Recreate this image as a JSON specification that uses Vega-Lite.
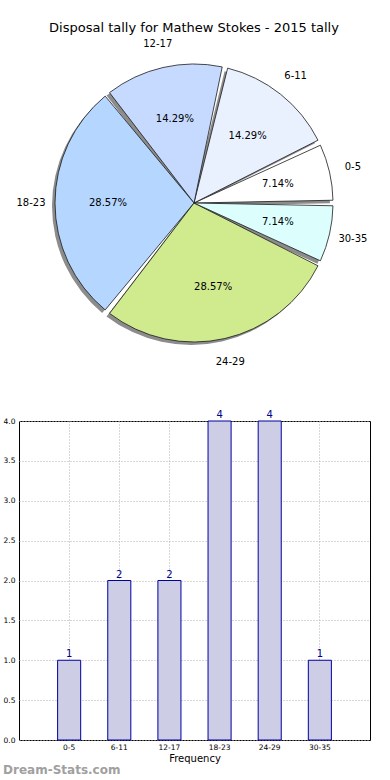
{
  "$schema": "https://vega.github.io/schema/vega-lite/v6.json",
  "padding": {"top": 22, "left": 2, "right": 0, "bottom": 0},
  "background": "white",
  "spacing": 42,
  "config": {"font": "DejaVu Sans", "view": {"stroke": null}},
  "datasets": {
    "tally": [
      {"idx": 0, "bin": "0-5", "count": 1, "pct": "7.14%"},
      {"idx": 1, "bin": "6-11", "count": 2, "pct": "14.29%"},
      {"idx": 2, "bin": "12-17", "count": 2, "pct": "14.29%"},
      {"idx": 3, "bin": "18-23", "count": 4, "pct": "28.57%"},
      {"idx": 4, "bin": "24-29", "count": 4, "pct": "28.57%"},
      {"idx": 5, "bin": "30-35", "count": 1, "pct": "7.14%"}
    ]
  },
  "vconcat": [
    {
      "width": 350,
      "height": 318,
      "title": {"text": "Disposal tally for Mathew Stokes - 2015 tally", "fontSize": 13, "fontWeight": "normal", "color": "black", "anchor": "middle", "offset": 4},
      "data": {"name": "tally"},
      "encoding": {
        "theta": {"field": "count", "type": "quantitative", "stack": true, "scale": {"range": [1.5708, 7.854]}},
        "order": {"field": "idx", "type": "quantitative", "sort": "descending"}
      },
      "layer": [
        {"mark": {"type": "arc", "outerRadius": 139, "padAngle": 0.04, "fill": "#8c8c8c", "xOffset": -3, "yOffset": 3}, "encoding": {}},
        {
          "mark": {"type": "arc", "outerRadius": 139, "padAngle": 0.04, "stroke": "#1a1a1a", "strokeWidth": 0.8},
          "encoding": {
            "color": {"field": "bin", "type": "nominal", "legend": null,
              "scale": {"domain": ["0-5", "6-11", "12-17", "18-23", "24-29", "30-35"],
                        "range": ["#ffffff", "#eaf1fe", "#c6daff", "#b4d6ff", "#d0ea8e", "#dcfffe"]}}
          }
        },
        {"mark": {"type": "text", "radius": 163, "fontSize": 10, "color": "black"}, "encoding": {"text": {"field": "bin"}}},
        {"mark": {"type": "text", "radius": 86, "fontSize": 10, "color": "black"}, "encoding": {"text": {"field": "pct"}}}
      ]
    },
    {
      "width": 351,
      "height": 319,
      "view": {"stroke": "black", "strokeWidth": 1},
      "data": {"name": "tally"},
      "title": {"text": "Dream-Stats.com", "orient": "bottom", "anchor": "start", "frame": "bounds", "fontSize": 12, "fontWeight": "bold", "color": "#a0a0a0", "offset": 1},
      "encoding": {
        "x": {"field": "bin", "type": "nominal", "sort": {"field": "idx"},
          "scale": {"paddingInner": 0.54, "paddingOuter": 0.77},
          "axis": {"title": "Frequency", "titleFontSize": 10, "titleFontWeight": "normal", "titleColor": "black", "labelFontSize": 7.5, "labelAngle": 0, "labelColor": "black", "domain": false, "ticks": false, "grid": true, "gridDash": [1, 2], "gridColor": "#b0b0b0", "bandPosition": 0.5, "labelPadding": 3, "titlePadding": 3}},
        "y": {"field": "count", "type": "quantitative", "scale": {"domain": [0, 4], "nice": false},
          "axis": {"title": null, "values": [0, 0.5, 1, 1.5, 2, 2.5, 3, 3.5, 4], "format": ".1f", "labelFontSize": 7.5, "labelColor": "black", "domain": false, "ticks": false, "gridDash": [1, 2], "gridColor": "#b0b0b0", "labelPadding": 4}}
      },
      "layer": [
        {"mark": {"type": "bar", "fill": "#cdcde6", "stroke": "#0000a0", "strokeWidth": 1}},
        {"mark": {"type": "text", "dy": -6, "fontSize": 10, "color": "#00008b"}, "encoding": {"text": {"field": "count"}}}
      ]
    }
  ]
}
